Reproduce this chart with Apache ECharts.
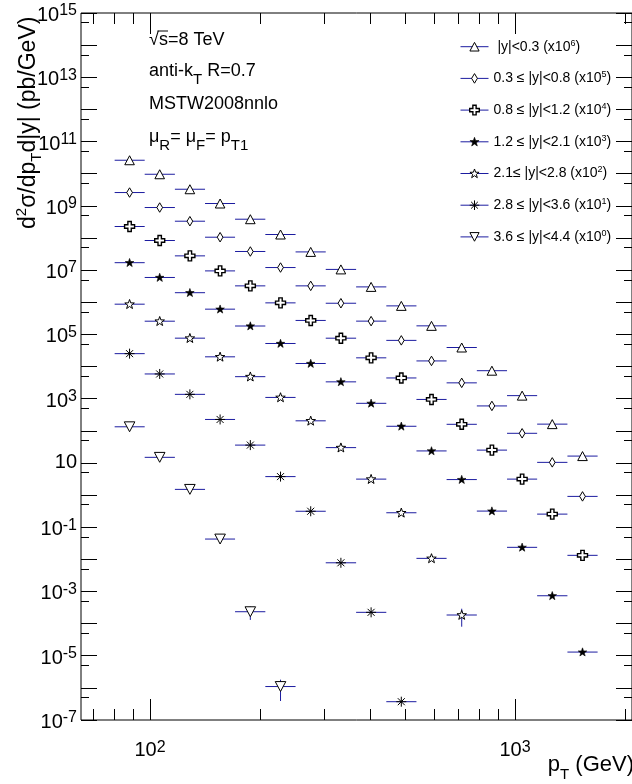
<!DOCTYPE html>
<html>
<head>
<meta charset="utf-8">
<script src="https://cdn.jsdelivr.net/npm/echarts@6/dist/echarts.min.js"></script>
<style>
html,body{margin:0;padding:0;background:#fff;}
#chart{width:632px;height:784px;}
</style>
</head>
<body>
<div id="chart"></div>
<script>
// ---------------- data ----------------
const binCenters = [87.9, 106.3, 128.6, 155.6, 188.3, 227.8, 275.6, 333.4, 403.4, 488.1, 590.5, 714.5, 864.4, 1046, 1265, 1531];
const binEdges = [80, 96.7, 117, 141.5, 171, 207, 250.5, 303, 367, 444, 537, 649.5, 786, 951, 1150, 1392, 1684];

const seriesNames = ['y0003', 'y0308', 'y0812', 'y1221', 'y2128', 'y2836', 'y3644'];
const legendLabels = [
  ' |y|<0.3 (x10{s|6})',
  '0.3 \u2264 |y|<0.8 (x10{s|5})',
  '0.8 \u2264 |y|<1.2 (x10{s|4})',
  '1.2 \u2264 |y|<2.1 (x10{s|3})',
  '2.1\u2264 |y|<2.8 (x10{s|2})',
  '2.8 \u2264 |y|<3.6 (x10{s|1})',
  '3.6 \u2264 |y|<4.4 (x10{s|0})'
];

const yTriangle = [2.62e10, 9.6e9, 3.28e9, 1.18e9, 3.83e8, 1.28e8, 3.68e7, 1.05e7, 3.0e6, 7.7e5, 1.84e5, 3.9e4, 7.4e3, 1.24e3, 161, 16.3];
const yDiamond = [2.59e9, 8.85e8, 3.32e8, 1.055e8, 3.79e7, 1.2e7, 3.23e6, 9.3e5, 2.58e5, 6.5e4, 1.49e4, 3.1e3, 593, 83.4, 10.4, 0.908];
const yCross = [2.27e8, 8.33e7, 2.77e7, 9.44e6, 3.23e6, 9.55e5, 2.71e5, 7.6e4, 1.86e4, 4.4e3, 944, 159, 25, 3.13, 0.255, 0.0133];
const yStarFilled = [1.70e7, 5.89e6, 1.98e6, 6.08e5, 1.82e5, 5.2e4, 1.24e4, 3.33e3, 715, 138, 23.6, 3.03, 0.317, 0.0236, 7.35e-4, 1.30e-5];
const yStarOpen = [8.69e5, 2.57e5, 7.62e4, 2.0e4, 4.83e3, 1.09e3, 204, 29.9, 3.13, 0.281, 0.0107, 1.85e-4];
const yAsterisk = [2.51e4, 5.86e3, 1.36e3, 225, 35.8, 3.75, 0.313, 7.8e-3, 2.24e-4, 3.71e-7];
const yTriDown = [133, 14.9, 1.50, 0.0427, 2.34e-4, 1.10e-6];

// vertical (y) uncertainties that are visible: series index, bin index, low, high
const vErrSeries = [4, 6, 6];
const vErrBin = [11, 4, 5];
const vErrLow = [8.0e-5, 1.3e-4, 3.9e-7];
const vErrHigh = [2.9e-4, 3.4e-4, 1.8e-6];

// axis ticks / labels
const xMajorTicks = [100, 1000];
const xMinorTicks = [70, 80, 90, 200, 300, 400, 500, 600, 700, 800, 900, 2000];
const yMajorExponents = [-7, -6, -5, -4, -3, -2, -1, 0, 1, 2, 3, 4, 5, 6, 7, 8, 9, 10, 11, 12, 13, 14, 15];
const yLabelExponents = [15, 13, 11, 9, 7, 5, 3, 1, -1, -3, -5, -7];
const yMinorMantissa = 5;

// ---------------- styling ----------------
const FONT = 'Liberation Sans';
const ERR = '#1c1ca0';
const xMin = 64.7, xMax = 2092;
const yMin = 1e-7, yMax = 1e15;

const PAD = 'M0,0L0,0.001M10,10L10,10.001';
const P_TRI = 'path://' + PAD + 'M5,0.5L9.8,9.5L0.2,9.5Z';
const P_TRIDOWN = 'path://' + PAD + 'M0.2,0.5L9.8,0.5L5,9.5Z';
const P_DIAMOND = 'path://' + PAD + 'M5,0L8,5L5,10L2,5Z';
const P_CROSS = 'path://M3.3,0L6.7,0L6.7,3.3L10,3.3L10,6.7L6.7,6.7L6.7,10L3.3,10L3.3,6.7L0,6.7L0,3.3L3.3,3.3Z';
const P_STAR = 'path://' + PAD + 'M5,0.3L6.18,3.68L9.76,3.76L6.9,5.92L7.94,9.35L5,7.3L2.06,9.35L3.1,5.92L0.24,3.76L3.82,3.68Z';
const P_AST = 'path://M5,0L5,10M0,5L10,5M1.5,1.5L8.5,8.5M8.5,1.5L1.5,8.5';

const markerStyles = [
  {symbol: P_TRI, size: 10, fill: '#ffffff', bw: 1},
  {symbol: P_DIAMOND, size: 9.5, fill: '#ffffff', bw: 1},
  {symbol: P_CROSS, size: 10, fill: '#ffffff', bw: 1.4},
  {symbol: P_STAR, size: 9, fill: '#000000', bw: 0.6},
  {symbol: P_STAR, size: 10, fill: '#ffffff', bw: 1},
  {symbol: P_AST, size: 10, fill: '#000000', bw: 1},
  {symbol: P_TRIDOWN, size: 11, fill: '#ffffff', bw: 1}
];

const dataSets = [yTriangle, yDiamond, yCross, yStarFilled, yStarOpen, yAsterisk, yTriDown];

const markerSeries = dataSets.map((vals, i) => ({
  type: 'line',
  name: seriesNames[i],
  xAxisIndex: 0, yAxisIndex: 0,
  data: vals.map((v, k) => [binCenters[k], v]),
  symbol: markerStyles[i].symbol,
  symbolSize: markerStyles[i].size,
  showSymbol: true,
  lineStyle: {opacity: 0, width: 1},
  itemStyle: {color: markerStyles[i].fill, borderColor: '#000', borderWidth: markerStyles[i].bw},
  emphasis: {disabled: true},
  silent: true,
  z: 4
}));

const errRows = [];
dataSets.forEach((vals, i) => {
  vals.forEach((v, k) => {
    let lo = null, hi = null;
    for (let j = 0; j < vErrSeries.length; j++) {
      if (vErrSeries[j] === i && vErrBin[j] === k) { lo = vErrLow[j]; hi = vErrHigh[j]; }
    }
    errRows.push([binCenters[k], binEdges[k], binEdges[k + 1], v, lo, hi]);
  });
});

const errSeries = {
  type: 'custom',
  name: 'errors',
  xAxisIndex: 0, yAxisIndex: 0,
  data: errRows,
  encode: {x: [0, 1, 2], y: [3, 4, 5]},
  silent: true,
  z: 3,
  renderItem: function (params, api) {
    const xc = api.value(0), xlo = api.value(1), xhi = api.value(2), y = api.value(3);
    const ylo = api.value(4), yhi = api.value(5);
    const a = api.coord([xlo, y]), b = api.coord([xhi, y]);
    const children = [{type: 'line', shape: {x1: a[0], y1: a[1], x2: b[0], y2: b[1]}, style: {stroke: ERR, lineWidth: 1}}];
    if (ylo > 0 && yhi > 0) {
      const c = api.coord([xc, ylo]), d = api.coord([xc, yhi]);
      children.push({type: 'line', shape: {x1: c[0], y1: c[1], x2: d[0], y2: d[1]}, style: {stroke: ERR, lineWidth: 1}});
    }
    return {type: 'group', children: children};
  }
};

// ---------------- decorative tick axes (log10 space) ----------------
const lxMin = Math.log10(xMin), lxMax = Math.log10(xMax);
const xMajorLog = xMajorTicks.map(v => Math.log10(v));
const xMinorLog = xMinorTicks.map(v => Math.log10(v));
const yMinorLog = yMajorExponents.slice(1).map(e => e - 1 + Math.log10(yMinorMantissa));

function xTickAxis(position, ticks, len, withLabels) {
  return {
    type: 'value', gridIndex: 0, position: position, min: lxMin, max: lxMax,
    axisLine: {show: false, onZero: false}, splitLine: {show: false},
    axisTick: {show: true, inside: true, length: len, customValues: ticks, lineStyle: {color: '#000', width: 1}},
    axisLabel: withLabels ? {
      show: true, customValues: xMajorLog.map(v => Math.round(v)), margin: 20,
      formatter: v => '{b|10}{s|' + Math.round(v) + '}',
      rich: {
        b: {fontFamily: FONT, fontSize: 20, lineHeight: 20, color: '#000'},
        s: {fontFamily: FONT, fontSize: 16, lineHeight: 15, verticalAlign: 'top', color: '#000'}
      }
    } : {show: false}
  };
}
function yTickAxis(position, ticks, len, withLabels) {
  return {
    type: 'value', gridIndex: 0, position: position, min: yMajorExponents[0], max: yMajorExponents[yMajorExponents.length - 1],
    axisLine: {show: false, onZero: false}, splitLine: {show: false},
    axisTick: {show: true, inside: true, length: len, customValues: ticks, lineStyle: {color: '#000', width: 1}},
    axisLabel: withLabels ? {
      show: true, customValues: yLabelExponents, margin: 4,
      formatter: v => (Math.round(v) === 1 ? '{p|10}' : '{b|10}{s|' + Math.round(v) + '}'),
      rich: {
        b: {fontFamily: FONT, fontSize: 20, lineHeight: 20, padding: [5, 0, 0, 0], color: '#000'},
        p: {fontFamily: FONT, fontSize: 20, lineHeight: 20, color: '#000'},
        s: {fontFamily: FONT, fontSize: 16, lineHeight: 15, verticalAlign: 'top', color: '#000'}
      }
    } : {show: false}
  };
}

const annoRich = {
  b: {fontFamily: FONT, fontSize: 18, lineHeight: 32, color: '#000'},
  u: {fontFamily: FONT, fontSize: 15, lineHeight: 12, verticalAlign: 'bottom', color: '#000'}
};

const option = {
  animation: false,
  backgroundColor: '#ffffff',
  textStyle: {fontFamily: FONT},
  grid: {left: 81, top: 13, width: 551, height: 707, show: true, borderColor: '#000', borderWidth: 1, backgroundColor: 'transparent'},
  xAxis: [
    {type: 'log', logBase: 10, min: xMin, max: xMax, show: false, gridIndex: 0, axisLine: {onZero: false}},
    xTickAxis('bottom', xMajorLog, 21, true),
    xTickAxis('bottom', xMinorLog, 11, false),
    xTickAxis('top', xMajorLog, 21, false),
    xTickAxis('top', xMinorLog, 11, false)
  ],
  yAxis: [
    {type: 'log', logBase: 10, min: yMin, max: yMax, show: false, gridIndex: 0, axisLine: {onZero: false}},
    yTickAxis('left', yMajorExponents, 16, true),
    yTickAxis('left', yMinorLog, 8, false),
    yTickAxis('right', yMajorExponents, 16, false),
    yTickAxis('right', yMinorLog, 8, false)
  ],
  legend: {
    orient: 'vertical', left: 460, top: 38.7, padding: 0,
    itemWidth: 28, itemHeight: 12, itemGap: 15.7,
    data: seriesNames.map((n, i) => ({name: n, itemStyle: {borderWidth: markerStyles[i].bw, borderColor: '#000', color: markerStyles[i].fill}})),
    lineStyle: {color: ERR, width: 1, opacity: 1, type: 'solid'},
    formatter: name => legendLabels[seriesNames.indexOf(name)],
    selectedMode: false,
    textStyle: {
      fontFamily: FONT, fontSize: 14, lineHeight: 16, color: '#000',
      rich: {s: {fontFamily: FONT, fontSize: 9, lineHeight: 9, verticalAlign: 'top', color: '#000'}}
    }
  },
  graphic: [
    {type: 'text', x: 149, y: 39.7, silent: true, style: {text: '{b|\u221As=8 TeV}', rich: annoRich, verticalAlign: 'middle', align: 'left'}},
    {type: 'line', silent: true, shape: {x1: 157.5, y1: 31, x2: 168, y2: 31}, style: {stroke: '#000', lineWidth: 1}},
    {type: 'text', x: 149, y: 71.4, silent: true, style: {text: '{b|anti-k}{u|T}{b| R=0.7}', rich: annoRich, verticalAlign: 'middle', align: 'left'}},
    {type: 'text', x: 149, y: 103.7, silent: true, style: {text: '{b|MSTW2008nnlo}', rich: annoRich, verticalAlign: 'middle', align: 'left'}},
    {type: 'text', x: 149, y: 136.9, silent: true, style: {text: '{b|\u03BC}{u|R}{b|= \u03BC}{u|F}{b|= p}{u|T1}', rich: annoRich, verticalAlign: 'middle', align: 'left'}},
    {type: 'text', x: 29, y: 229, rotation: Math.PI / 2, silent: true, style: {
      text: '{b|d}{s|2}{b|\u03C3/dp}{u|T}{b|d|y| (pb/GeV)}', align: 'left', verticalAlign: 'middle',
      rich: {
        b: {fontFamily: FONT, fontSize: 23, lineHeight: 30, color: '#000'},
        s: {fontFamily: FONT, fontSize: 15, lineHeight: 15, verticalAlign: 'top', color: '#000'},
        u: {fontFamily: FONT, fontSize: 15, lineHeight: 12, verticalAlign: 'bottom', color: '#000'}
      }
    }},
    {type: 'text', x: 634, y: 765, silent: true, style: {
      text: '{b|p}{u|T}{b| (GeV)}', align: 'right', verticalAlign: 'middle',
      rich: {
        b: {fontFamily: FONT, fontSize: 22, lineHeight: 34, color: '#000'},
        u: {fontFamily: FONT, fontSize: 15, lineHeight: 12, verticalAlign: 'bottom', color: '#000'}
      }
    }}
  ],
  series: [errSeries].concat(markerSeries)
};

const chart = echarts.init(document.getElementById('chart'), null, {renderer: 'canvas'});
chart.setOption(option);
</script>
</body>
</html>
